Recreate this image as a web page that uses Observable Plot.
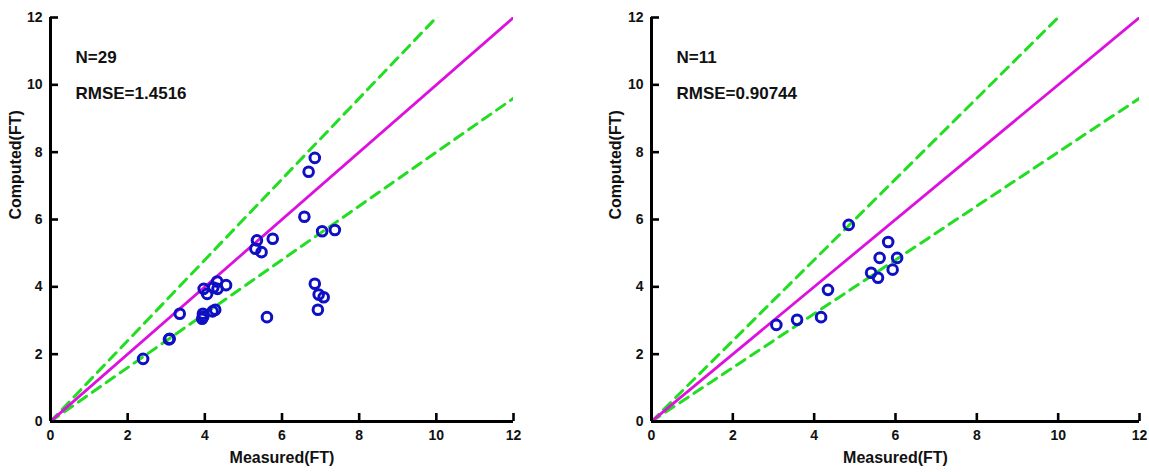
<!DOCTYPE html>
<html>
<head>
<meta charset="utf-8">
<script src="https://cdn.jsdelivr.net/npm/d3@7"></script>
<script src="https://cdn.jsdelivr.net/npm/@observablehq/plot@0.6"></script>
<style>
  html, body { margin: 0; padding: 0; background: #fff; }
  #wrap { position: relative; width: 1149px; height: 472px; }
  .panel { position: absolute; top: 0; }
</style>
</head>
<body>
<div id="wrap">
  <div id="left" class="panel" style="left:0px"></div>
  <div id="right" class="panel" style="left:575px"></div>
</div>
<script>
// ---- data ----
const leftMeasured = [6.85, 6.69, 6.58, 5.35, 5.76, 5.31, 5.47, 7.04, 7.37, 6.85, 6.95, 7.08, 6.93, 5.61,
  3.97, 4.06, 4.32, 4.33, 4.55, 3.35, 3.09, 2.40, 3.95, 3.93, 4.20, 4.27, 4.22, 3.07, 3.96];
const leftComputed = [7.83, 7.42, 6.08, 5.38, 5.43, 5.13, 5.03, 5.65, 5.69, 4.09, 3.77, 3.69, 3.32, 3.10,
  3.94, 3.79, 4.16, 3.94, 4.05, 3.20, 2.46, 1.86, 3.20, 3.05, 3.27, 3.32, 3.98, 2.44, 3.12];
const rightMeasured = [4.85, 5.82, 5.61, 6.04, 5.40, 5.57, 5.93, 4.34, 4.17, 3.58, 3.07];
const rightComputed = [5.84, 5.33, 4.86, 4.86, 4.42, 4.27, 4.51, 3.91, 3.10, 3.02, 2.87];
const leftStats = ["N=29", "RMSE=1.4516"];
const rightStats = ["N=11", "RMSE=0.90744"];
const tickValues = [0, 2, 4, 6, 8, 10, 12];
const bandSlopes = [1.2, 0.8];
const xLabel = "Measured(FT)";
const yLabel = "Computed(FT)";

// ---- drawing ----
const H = 472, MT = 17, MB = 51;
const FONT = "'Liberation Sans', Arial, Helvetica, sans-serif";

function panel(measured, computed, stats, width, ml, mr, yLabelOffset) {
  const pts = measured.map((m, i) => ({m, c: computed[i]}));
  const identity = [0, 12].map(x => ({x, y: x}));
  const bands = bandSlopes.flatMap((s, k) => [0, 12].map(x => ({x, y: s * x, k})));
  const tickData = tickValues.map(v => ({v}));
  const pxPerX = (width - ml - mr) / 12;
  const pxPerY = (H - MT - MB) / 12;
  const tickLenX = 8 / pxPerY;  // inward tick length (y-units)
  const tickLenY = 8 / pxPerX;  // inward tick length (x-units)
  return Plot.plot({
    width, height: H,
    marginLeft: ml, marginRight: mr, marginTop: MT, marginBottom: MB,
    x: {domain: [0, 12]},
    y: {domain: [0, 12]},
    style: {fontFamily: FONT, fontWeight: "bold", background: "#fff", color: "#111"},
    marks: [
      Plot.line(bands, {x: "x", y: "y", z: "k", stroke: "#22dd22", strokeWidth: 3, strokeDasharray: "10,7", clip: true}),
      Plot.line(identity, {x: "x", y: "y", stroke: "#dd11dd", strokeWidth: 2.8, clip: true}),
      Plot.dot(pts, {x: "m", y: "c", r: 4.8, stroke: "#0f0fc4", strokeWidth: 3, fill: "none"}),
      Plot.ruleX([0], {stroke: "#000", strokeWidth: 3}),
      Plot.ruleY([0], {stroke: "#000", strokeWidth: 3}),
      Plot.ruleX(tickData, {x: "v", y1: 0, y2: tickLenX, stroke: "#000", strokeWidth: 2.6}),
      Plot.ruleY(tickData, {y: "v", x1: 0, x2: tickLenY, stroke: "#000", strokeWidth: 2.6}),
      Plot.axisX({ticks: tickValues, tickSize: 0, tickPadding: 9, fontSize: 14, label: null}),
      Plot.axisY({ticks: tickValues, tickSize: 0, tickPadding: 8, fontSize: 14, label: null}),
      Plot.text([xLabel], {text: d => d, frameAnchor: "bottom", dy: 41, fontSize: 16, fontWeight: "bold"}),
      Plot.text([yLabel], {text: d => d, frameAnchor: "left", dx: -yLabelOffset, rotate: -90, fontSize: 16, fontWeight: "bold"}),
      Plot.text([stats[0]], {text: d => d, frameAnchor: "top-left", textAnchor: "start", dx: 25, dy: 33, fontSize: 17, fontWeight: "bold"}),
      Plot.text([stats[1]], {text: d => d, frameAnchor: "top-left", textAnchor: "start", dx: 25, dy: 69, fontSize: 17, fontWeight: "bold"})
    ]
  });
}

const leftPlot = panel(leftMeasured, leftComputed, leftStats, 575, 50, 62, 35);
const rightPlot = panel(rightMeasured, rightComputed, rightStats, 574, 76, 10, 36);
document.getElementById("left").append(leftPlot);
document.getElementById("right").append(rightPlot);
</script>
</body>
</html>
